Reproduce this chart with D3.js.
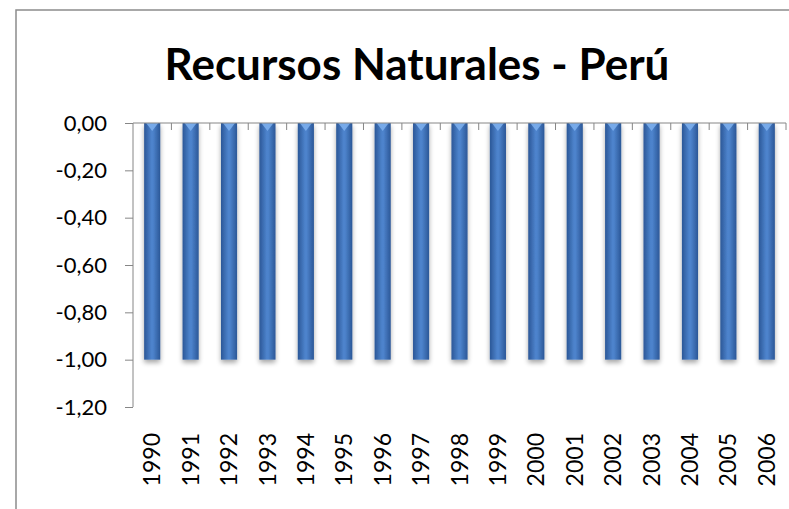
<!DOCTYPE html>
<html><head><meta charset="utf-8">
<script src="https://cdn.jsdelivr.net/npm/d3@7"></script>
<style>body{margin:0;background:#fff}svg{display:block}</style>
</head><body><svg id="c" width="789" height="509"></svg>
<script>
const years = ["1990","1991","1992","1993","1994","1995","1996","1997","1998","1999","2000","2001","2002","2003","2004","2005","2006"];
const values = [-1,-1,-1,-1,-1,-1,-1,-1,-1,-1,-1,-1,-1,-1,-1,-1,-1];
const yTicks = [0,-0.2,-0.4,-0.6,-0.8,-1.0,-1.2];
const title = "Recursos Naturales - Perú";

const svg = d3.select("#c");
const defs = svg.append("defs");
const g1 = defs.append("linearGradient").attr("id","bg").attr("x1","0").attr("x2","1").attr("y1","0").attr("y2","0");
g1.append("stop").attr("offset","0").attr("stop-color","#2b5797");
g1.append("stop").attr("offset","0.45").attr("stop-color","#4d83cc");
g1.append("stop").attr("offset","0.55").attr("stop-color","#4d83cc");
g1.append("stop").attr("offset","1").attr("stop-color","#2b5797");
const f = defs.append("filter").attr("id","sh").attr("x","-50%").attr("y","-10%").attr("width","200%").attr("height","130%");
f.append("feGaussianBlur").attr("in","SourceAlpha").attr("stdDeviation","2.5");
f.append("feOffset").attr("dy","3").attr("result","b");
f.append("feComponentTransfer").append("feFuncA").attr("type","linear").attr("slope","0.35");
const m = f.append("feMerge"); m.append("feMergeNode"); m.append("feMergeNode").attr("in","SourceGraphic");

// frame
svg.append("rect").attr("x",16).attr("y",10).attr("width",820).attr("height",560)
  .attr("fill","#fff").attr("stroke","#8c8c8c").attr("stroke-width",1.5);

svg.append("text").attr("x",417).attr("y",80).attr("text-anchor","middle")
  .attr("font-family","Lato, 'Open Sans', sans-serif").attr("font-weight","bold")
  .attr("font-size",44).attr("fill","#000").text(title);

const x = d3.scaleBand().domain(years).range([133,786]).paddingInner(0.58).paddingOuter(0.29);
const y = d3.scaleLinear().domain([0,-1.2]).range([123,407]);

// bars
const bars = svg.append("g").attr("filter","url(#sh)");
bars.selectAll("rect").data(values).join("rect")
  .attr("x",(d,i)=>x(years[i])).attr("width",x.bandwidth())
  .attr("y",y(0)).attr("height",d=>y(d)-y(0))
  .attr("fill","url(#bg)");
// top bevel highlight
svg.append("g").selectAll("path").data(values).join("path")
  .attr("d",(d,i)=>{const x0=x(years[i]),w=x.bandwidth();return `M${x0+2},${y(0)}L${x0+w-2},${y(0)}L${x0+w/2},${y(0)+8}Z`;})
  .attr("fill","#7fb2ee").attr("opacity",0.85);

const axisColor = "#868686";
const fontFam = "Lato, 'Open Sans', sans-serif";
// y axis
const ya = svg.append("g").attr("transform","translate(133,0)")
  .call(d3.axisLeft(y).tickValues(yTicks).tickSize(8).tickPadding(18)
    .tickFormat(d=>d3.format(".2f")(d).replace(".",",").replace("−","-")));
ya.select(".domain").attr("stroke",axisColor).attr("d",`M0,${y(0)}V${y(-1.2)}`);
ya.selectAll(".tick line").attr("stroke",axisColor);
ya.selectAll(".tick text").attr("font-family",fontFam).attr("font-size",22).attr("fill","#000");

// x axis at zero
const boundaries = years.map(d=>x(d)-x.step()*x.paddingInner()/2).concat([786]);
const xa = svg.append("g");
xa.append("line").attr("x1",133).attr("x2",786).attr("y1",y(0)).attr("y2",y(0)).attr("stroke",axisColor);
xa.selectAll("line.t").data(boundaries.slice(1)).join("line").attr("class","t")
  .attr("x1",d=>d).attr("x2",d=>d).attr("y1",y(0)).attr("y2",y(0)+7).attr("stroke",axisColor);

// year labels
svg.append("g").selectAll("text").data(years).join("text")
  .attr("transform",d=>`translate(${x(d)+x.bandwidth()/2},433) rotate(-90)`)
  .attr("text-anchor","end").attr("dy","0.35em")
  .attr("font-family",fontFam).attr("font-size",23).attr("fill","#000").text(d=>d);
</script></body></html>
